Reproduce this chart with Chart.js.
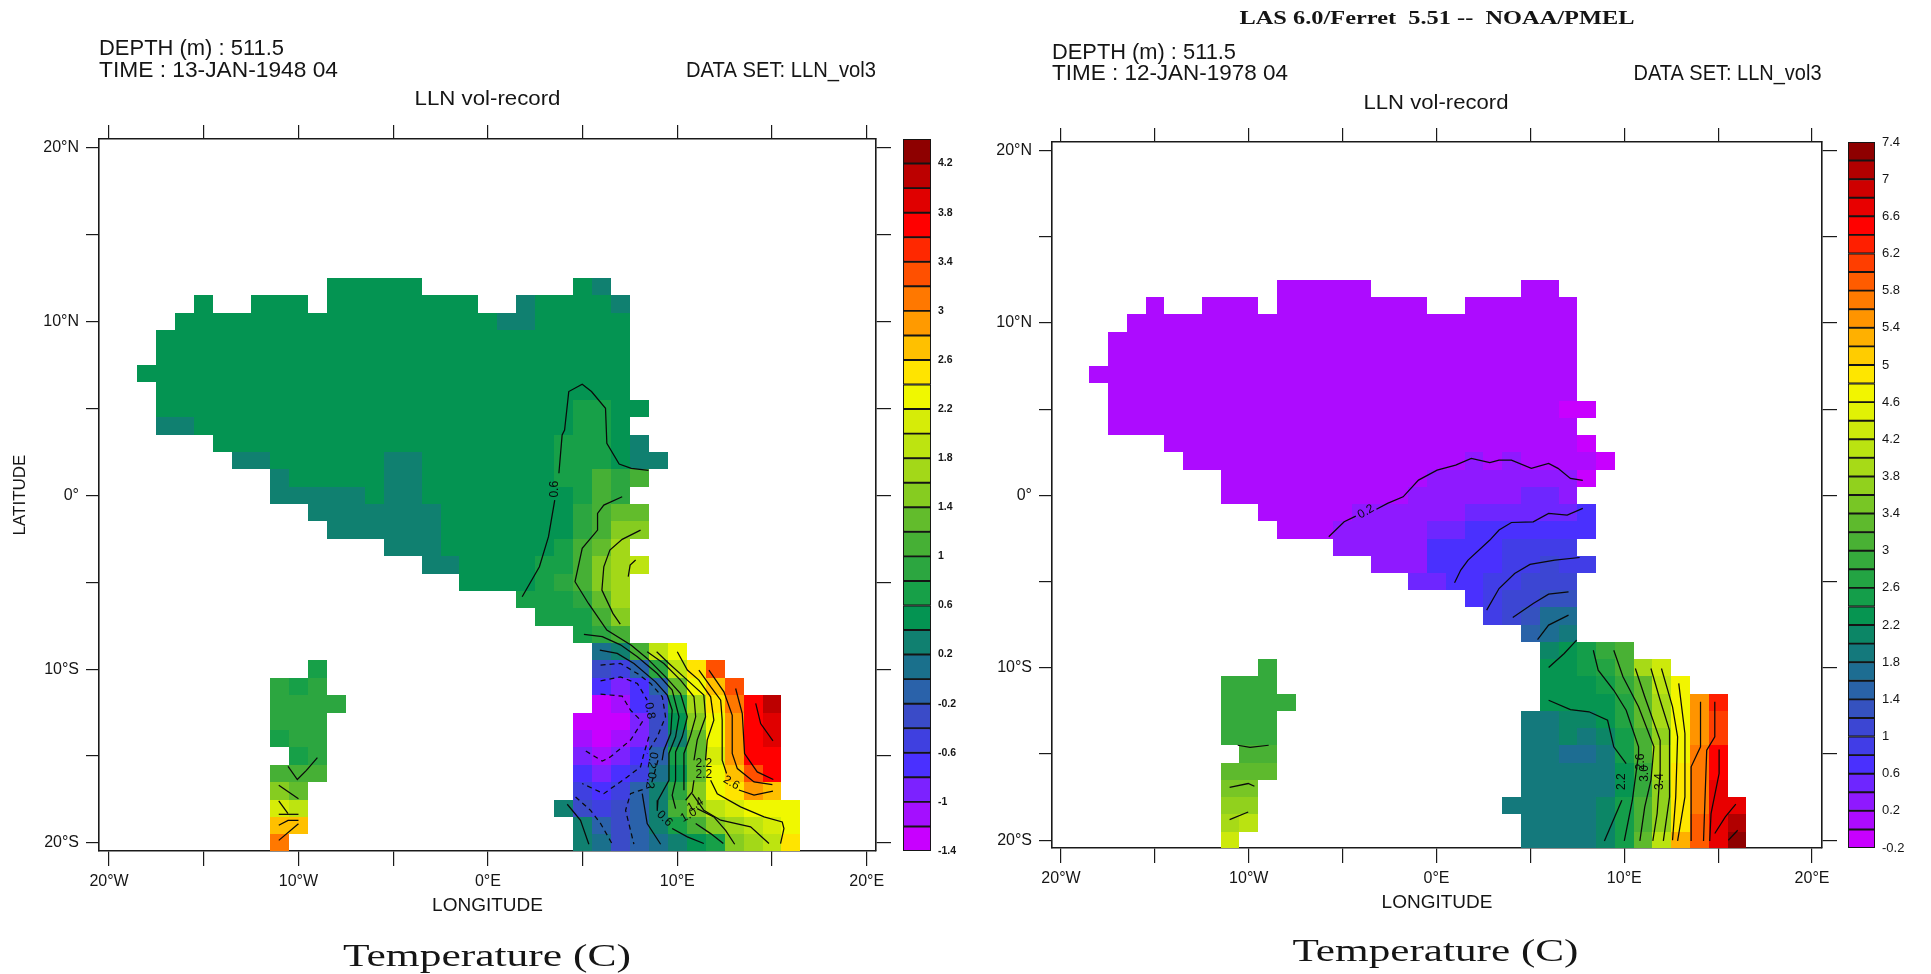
<!DOCTYPE html>
<html><head><meta charset="utf-8">
<style>html,body{margin:0;padding:0;background:#fff;width:1931px;height:974px;overflow:hidden}
canvas{position:absolute;top:0;filter:blur(.45px)}</style>
<script src="https://cdn.jsdelivr.net/npm/chart.js@4"></script>
</head><body>
<canvas id="mapL" width="960" height="974" style="left:0;width:960px;height:974px"></canvas>
<canvas id="mapR" width="966" height="974" style="left:965px;width:966px;height:974px"></canvas>
<canvas id="barL" width="65" height="974" style="left:903px;width:65px;height:974px"></canvas>
<canvas id="barR" width="83" height="974" style="left:1848px;width:83px;height:974px"></canvas>
<script>
const xTickValues=[-20,-15,-10,-5,0,5,10,15,20];
const xTickLabels=["20°W","","10°W","","0°E","","10°E","","20°E"];
const yTickValues=[20,15,10,5,0,-5,-10,-15,-20];
const yTickLabels=["20°N","","10°N","","0°","","10°S","","20°S"];
const leftLevelTicks=[-1.4,-1,-0.6,-0.2,0.2,0.6,1,1.4,1.8,2.2,2.6,3,3.4,3.8,4.2];
const rightLevelTicks=[-0.2,0.2,0.6,1,1.4,1.8,2.2,2.6,3,3.4,3.8,4.2,4.6,5,5.4,5.8,6.2,6.6,7,7.4];
const CODES="0123456789abcdefghijklmnopqrstuvwxyzAB";
const paletteStops=["#c800ff","#a40fff","#7c22ff","#4a30ff","#3f40e0","#3a4bc8","#2a62aa","#1a708c","#108070","#049452","#17a048","#2ca640","#46b035","#62bc2c","#86cc20","#a3d818","#bde410","#d6ec08","#f0f800","#ffe400","#ffc000","#ff9a00","#ff7800","#ff5000","#ff2800","#ff0000","#e00000","#bc0000","#8e0000"];

// [latitude, first longitude, one level code per 1-degree cell]
const leftCells=[
[12,-8,"99999"],[12,5,"98"],
[11,-15,"9"],[11,-12,"999"],[11,-8,"99999999"],[11,2,"899998"],
[10,-16,"99999 99999 99999 99 88 99999"],
[9,-17,"99999 99999 99999 99999 99999"],
[8,-17,"99999 99999 99999 99999 99999"],
[7,-18,"99999 99999 99999 99999 99999 9"],
[6,-17,"99999 99999 99999 99999 99999"],
[5,-17,"99999 99999 99999 99999 99 aa 99"],
[4,-17,"88 99999 99999 99999 99999 aa 9"],
[3,-14,"99999 99999 99999 999 aaa 9 8"],
[2,-13,"88 999999 88 9999999 aaa 9 88"],
[1,-11,"8 99999 88 9999999 aa c b c"],
[0,-11,"88888 9 88 9999999 9 a c b"],
[-1,-9,"8888888 9999999 b c dd"],
[-2,-8,"888888 9999999 b c ee"],
[-3,-5,"888 999999 a c d f"],
[-4,-3,"88 9999 aa c e f g"],
[-5,-1,"9999 a b c e f"],
[-6,2,"aaabdf"],
[-7,3,"aaace"],
[-8,5,"abc"],
[-9,6,"78cgi"],
[-10,6,"546bgjn"],[-10,-9,"a"],
[-11,6,"3236dikn"],[-11,-11,"bab"],
[-12,6,"0135afjmpr"],[-12,-11,"bbbb"],
[-13,5,"000259eilpq"],[-13,-11,"bbb"],
[-14,5,"101258dilpq"],[-14,-11,"abb"],
[-15,5,"21236adhlpp"],[-15,-10,"ab"],
[-16,5,"323479diknp"],[-16,-11,"ccc"],
[-17,5,"43468beijlk"],[-17,-11,"ed"],
[-18,4,"854568ceghiii"],[-18,-11,"hg"],
[-19,5,"86568acefghi"],[-19,-11,"kk"],
[-20,5,"8756789aefgj"],[-20,-11,"m"]
];
const rightCells=[
[12,-8,"11111"],[12,5,"11"],
[11,-15,"1"],[11,-12,"111"],[11,-8,"11111111"],[11,2,"111111"],
[10,-16,"11111 11111 11111 11111 1111"],
[9,-17,"11111 11111 11111 11111 11111"],
[8,-17,"11111 11111 11111 11111 11111"],
[7,-18,"11111 11111 11111 11111 11111 1"],
[6,-17,"11111 11111 11111 11111 11111"],
[5,-17,"11111 11111 11111 11111 1111 00"],
[4,-17,"11111 11111 11111 11111 11111"],
[3,-14,"11111 11111 11111 11111 11 0"],
[2,-13,"11111 11111 11111 2 1 2 111 1 0"],
[1,-11,"11111 11111 1 22222222 0"],
[0,-11,"11111 11111 222222 33 2"],
[-1,-9,"11111 222222 333333 4"],
[-2,-8,"111 22222 33 4444444"],
[-3,-5,"22222 4444 5555"],
[-4,-3,"222 4444 55655"],
[-5,-1,"334455666"],
[-6,2,"456677"],
[-7,3,"56799"],
[-8,5,"89a"],
[-9,6,"bcdfg"],
[-10,6,"ccdegkm"],[-10,-9,"f"],
[-11,6,"cccdfhlo"],[-11,-11,"fff"],
[-12,6,"ccccehkosw"],[-12,-11,"ffff"],
[-13,5,"aabbcehkosv"],[-13,-11,"fff"],
[-14,5,"aababdgjosv"],[-14,-11,"fff"],
[-15,5,"aa99adgkotx"],[-15,-10,"gg"],
[-16,5,"aaaaacfkptx"],[-16,-11,"hhh"],
[-17,5,"aaaaacfjpty"],[-17,-11,"ii"],
[-18,4,"aaaaabdgjptyy"],[-18,-11,"jj"],
[-19,5,"aaaabdgjpuyA"],[-19,-11,"kl"],
[-20,5,"aaaabdhlruyB"],[-20,-11,"m"]
];

const leftSolid=[
[[8.48,1.44],[7.57,1.55],[6.93,1.8],[6.28,2.99],[6.21,5.01],[5.47,5.97],[4.98,6.39],[4.27,5.97],[4.05,3.76],[3.92,3.47],[3.75,1.27]],
[[3.53,-0.27],[3.2,-2.38],[2.72,-4.11],[1.81,-5.83]],
[[7.09,-0.08],[6.12,-0.56],[5.79,-1.04],[5.79,-2],[4.98,-3.05],[4.6,-4.97],[5.31,-6.22],[6.28,-7.75],[7.57,-8.62],[8.41,-9.38],[9.38,-10.44],[10.17,-11.4],[10.53,-12.74],[10.26,-13.89],[9.91,-14.76],[9.91,-16.39],[9.73,-17.25],[9.91,-18.02]],
[[10.97,-18.88],[11.76,-19.46],[12.43,-20.03]],
[[8.06,-2],[7.09,-2.53],[6.44,-3.15],[6.12,-4.11],[6.02,-5.45],[6.6,-6.79],[6.99,-7.41]],
[[7.8,-3.72],[7.51,-4.01],[7.41,-4.68]],
[[5.07,-8],[6.04,-8.13],[7,-8.6],[7.89,-9.29],[8.94,-10.25],[9.73,-11.2],[10.09,-12.74],[9.91,-13.89],[9.56,-14.85],[9.56,-16.39],[8.98,-17.54],[8.94,-18.15]],
[[9.73,-19.17],[10.53,-19.65],[11.4,-20.03]],
[[5.91,-8.9],[6.83,-9.09],[7.71,-9.67],[8.85,-10.73],[9.47,-11.49],[9.73,-12.36],[9.65,-13.7],[9.29,-14.66],[9.2,-15.24]],
[[8.41,-9],[9.29,-9.67],[10.17,-10.63],[10.88,-11.59],[10.97,-12.74],[10.7,-13.8],[10.35,-14.85],[10.35,-16.96]],
[[8.91,-9],[9.56,-9.67],[10.53,-10.63],[11.4,-11.49],[11.49,-12.74],[11.05,-14.08],[10.88,-15.24]],
[[10.88,-16.39],[10.79,-17.06],[10.44,-17.54]],
[[10,-9],[10.53,-10.05],[11.14,-10.63],[11.76,-11.59],[11.93,-12.93],[11.58,-14.08],[11.49,-15.24]],
[[11.76,-16.39],[12.11,-17.17],[13.34,-17.92],[14.58,-18.5],[15.54,-18.79],[15.63,-19.17],[15.45,-20.03]],
[[11.14,-10.05],[11.76,-11.01],[12.29,-11.78],[12.37,-12.93],[12.37,-15.24],[12.6,-16]],
[[13.25,-16.95],[14.05,-17.25],[15.05,-17.02]],
[[11.67,-10.05],[12.46,-11.3],[12.9,-12.65],[12.9,-14.85],[13.17,-15.72],[14.05,-16.49],[15.02,-16.64]],
[[13.08,-11.11],[13.43,-12.55],[13.55,-14.85],[14.22,-15.91],[15.07,-16.35]],
[[14.14,-11.97],[14.4,-13.13],[15.05,-14.12]],
[[10.79,-17.16],[11.4,-18.12],[12.29,-18.69],[13.87,-19.07],[14.84,-20.03]],
[[11.05,-18.02],[11.93,-18.5],[12.55,-19.27],[13.03,-20.07]],
[[4.19,-17.77],[4.89,-18.69],[5.33,-20.07]],
[[8.15,-17.16],[8.41,-18.88],[9.12,-20.07]],
[[-9,-15.09],[-9.58,-15.82],[-10.06,-16.35],[-10.55,-15.59]],
[[-11.04,-16.68],[-10,-17.45]],
[[-11.04,-17.58],[-10.55,-18.31]],
[[-11.04,-18.35],[-10,-18.35]],
[[-11.04,-18.98],[-10.55,-18.7],[-10,-18.7]],
[[-11.04,-19.85],[-10,-18.89]]
];
const leftDashed=[
[[5.95,-9.77],[7,-9.67],[7.89,-10.25],[8.59,-10.82],[9.21,-11.59],[9.38,-12.74],[8.94,-13.89],[8.41,-14.85]],
[[5.95,-10.67],[7,-10.44],[7.89,-10.82],[8.41,-11.78]],
[[8.5,-13.89],[8.24,-14.85],[8.06,-15.62],[7.36,-16.2],[6.12,-17.16],[4.98,-16.58]],
[[5.95,-11.44],[7.09,-11.55],[7.53,-12.36],[8.15,-13.03],[7.53,-14.08],[6.48,-15.04],[6.04,-15.29],[5.16,-14.7]],
[[8.98,-15.24],[8.59,-16.77],[7.53,-17.16],[7.27,-18.12],[7.71,-20.07]],
[[4.63,-17.35],[5.42,-18.12],[5.95,-18.88],[6.57,-20.07]]
];
const rightSolid=[
[[7.79,0.87],[7.13,0.99],[6.47,1.57],[5.97,1.86],[5.05,1.57],[3.99,2.05],[3.33,2.05],[2.84,1.91],[1.85,2.15],[1.02,1.76],[0.03,1.47],[-0.96,0.89],[-1.78,-0.08],[-2.61,-0.46],[-3.2,-0.8]],
[[-4.3,-1.2],[-4.92,-1.53],[-5.74,-2.4]],
[[7.79,-0.75],[6.96,-1.14],[5.97,-1.04],[5.15,-1.53],[3.99,-1.57],[3.33,-2.01],[2.84,-2.59],[1.68,-3.75],[1.29,-4.33],[0.96,-5.07]],
[[7.62,-3.6],[6.3,-3.75],[4.98,-4],[4.16,-4.53],[3.33,-5.4],[2.67,-6.65]],
[[7.03,-5.59],[5.97,-5.73],[5.15,-6.27],[4.06,-7.08]],
[[7.03,-6.94],[5.97,-7.52],[5.38,-8.36]],
[[7.46,-8.39],[6.8,-9.17],[5.97,-9.98]],
[[5.97,-11.88],[7.13,-12.42],[8.12,-12.55],[9.11,-13.04],[9.44,-14.58],[10.1,-15.55]],
[[9.87,-17.68],[8.94,-20.04]],
[[8.35,-8.98],[8.61,-10.14],[9.44,-11.3],[10.1,-12.46],[10.76,-14.58],[10.76,-15],[10.43,-17.68],[10,-20.04]],
[[9.44,-8.98],[9.93,-10.52],[10.76,-12.26],[11.58,-14.58],[11.42,-16.52],[11.09,-18.07],[10.83,-20.04]],
[[10.59,-10.04],[11.09,-11.68],[11.91,-14.2],[11.91,-16],[11.75,-18.45],[11.52,-20.04]],
[[11.42,-10.04],[11.91,-11.88],[12.41,-13.62],[12.41,-17.49],[12.08,-20.04]],
[[11.98,-10.04],[12.57,-12.26],[12.84,-14],[12.74,-17.49],[12.57,-20]],
[[12.9,-10.9],[13.23,-13.81],[13.23,-17.49],[12.84,-20.04]],
[[14.06,-11.97],[14.06,-14.58],[13.56,-15.74],[13.56,-20.04]],
[[14.82,-11.97],[14.82,-14],[14.39,-14.78],[14.22,-20.04]],
[[15.05,-14.74],[15.05,-16.13],[14.62,-18.45],[14.55,-20.04]],
[[15.94,-17.91],[15.38,-18.65],[14.82,-19.61]],
[[16.04,-19.42],[15.54,-20]],
[[-10.59,-14.49],[-9.93,-14.62],[-8.94,-14.49]],
[[-11.02,-16.94],[-10.03,-16.71],[-9.7,-16.87]],
[[-11.02,-18.8],[-10.03,-18.36]]
];
const leftContourLabels=[[3.53,0.35,"0.6",-90],[8.55,-12.4,"0.8",80],[8.68,-15.24,"0.2",100],[8.59,-16.39,"0.2",100],[9.33,-18.6,"0.6",45],[10.6,-18.4,"1.0",-30],[10.95,-17.8,"1.4",-30],[11.4,-15.45,"2.2",0],[11.4,-16.05,"2.2",0],[12.85,-16.54,"2.6",30]];
const rightContourLabels=[[-3.76,-0.95,"0.2",-30],[9.87,-16.6,"2.2",-90],[10.86,-15.45,"2.6",-90],[11.09,-16.13,"3.0",-90],[11.91,-16.6,"3.4",-90]];

function expand(rows,min,step){
  const out=[];
  rows.forEach(([lat,lon,codes])=>[...codes.replace(/ /g,'')].forEach((c,i)=>out.push({x:lon+i,y:lat,v:min+(CODES.indexOf(c)+.5)*step})));
  return out;
}
function hex(c){return [1,3,5].map(i=>parseInt(c.substr(i,2),16));}
function palette(n){
  const r=[];
  for(let j=0;j<n;j++){
    const t=j*(paletteStops.length-1)/(n-1),k=Math.min(Math.floor(t),paletteStops.length-2),f=t-k;
    const a=hex(paletteStops[k]),b=hex(paletteStops[k+1]);
    r.push(`rgb(${a.map((v,i)=>Math.round(v+(b[i]-v)*f)).join(',')})`);
  }
  return r;
}
function fitText(ctx,text,x,y,w,font,align){
  ctx.save();ctx.font=font;ctx.fillStyle='#151515';ctx.textBaseline='middle';ctx.textAlign='left';
  const m=ctx.measureText(text).width,s=w/m,x0=align==='center'?x-w/2:x;
  ctx.translate(x0,y);ctx.scale(s,1);ctx.fillText(text,0,0);ctx.restore();
}
function lineSets(list,dash){
  return list.map(pts=>({type:'scatter',showLine:true,data:pts.map(p=>({x:p[0],y:p[1]})),borderColor:'#0a0a0a',borderWidth:1.25,pointRadius:0,borderDash:dash,tension:0,fill:false}));
}
function mapChart(id,c){
  const pal=palette(c.n);
  const cellPlugin={id:'cells',beforeDatasetsDraw(ch){
    const {ctx,chartArea:a,scales:{x,y}}=ch;
    ctx.save();ctx.beginPath();ctx.rect(a.left,a.top,a.right-a.left,a.bottom-a.top);ctx.clip();
    ch.data.datasets[0].data.forEach(d=>{
      const x0=Math.round(x.getPixelForValue(d.x-.5)),x1=Math.round(x.getPixelForValue(d.x+.5));
      const y0=Math.round(y.getPixelForValue(d.y+.5)),y1=Math.round(y.getPixelForValue(d.y-.5));
      ctx.fillStyle=pal[Math.floor((d.v-c.min)/c.step)];ctx.fillRect(x0,y0,x1-x0,y1-y0);
    });
    ctx.restore();
  }};
  const textPlugin={id:'texts',afterDatasetsDraw(ch){
    const {ctx,scales:{x,y}}=ch;
    c.labels.forEach(([lo,la,t,r])=>{
      ctx.save();ctx.translate(x.getPixelForValue(lo),y.getPixelForValue(la));ctx.rotate(r*Math.PI/180);
      ctx.font='12px "Liberation Sans"';ctx.fillStyle='#0a0a0a';ctx.textAlign='center';ctx.textBaseline='middle';ctx.fillText(t,0,0);ctx.restore();
    });
    c.texts.forEach(t=>fitText(ctx,...t));
  }};
  const gridCfg=len=>({display:true,drawOnChartArea:false,drawTicks:true,tickLength:len,color:'#1a1a1a',lineWidth:1.2});
  const borderCfg={display:true,color:'#1a1a1a',width:1.6};
  const setX=s=>{s.ticks=xTickValues.map(v=>({value:v}));};
  const setY=s=>{s.ticks=yTickValues.map(v=>({value:v}));};
  const tickFont={family:'"Liberation Sans"',size:16};
  const yScale={type:'linear',position:'left',min:c.latMin,max:c.latMax,afterBuildTicks:setY,afterFit:s=>{s.width=c.left;},
    grid:gridCfg(13),border:borderCfg,
    ticks:{autoSkip:false,maxRotation:0,padding:7,color:'#151515',font:tickFont,callback:(v,i)=>yTickLabels[i]}};
  if(c.latTitle) yScale.title={display:true,text:'LATITUDE',color:'#151515',font:{family:'"Liberation Sans"',size:17},padding:{top:10,bottom:10}};
  return new Chart(document.getElementById(id),{
    data:{datasets:[{type:'scatter',label:'Temperature (C)',data:expand(c.cells,c.min,c.step),pointRadius:0,showLine:false},...lineSets(c.solid,[]),...lineSets(c.dashed,[5,4])]},
    plugins:[cellPlugin,textPlugin],
    options:{responsive:false,animation:false,devicePixelRatio:1,layout:{padding:0},
      plugins:{legend:{display:false},tooltip:{enabled:false},title:{display:false}},
      scales:{
        x:{type:'linear',position:'bottom',min:c.lonMin,max:c.lonMax,afterBuildTicks:setX,afterFit:s=>{s.height=c.bottom;},
          grid:gridCfg(15),border:borderCfg,
          title:{display:true,text:'LONGITUDE',color:'#151515',font:{family:'"Liberation Sans"',size:19},padding:{top:0,bottom:c.lonPad}},
          ticks:{autoSkip:false,maxRotation:0,padding:6,color:'#151515',font:tickFont,callback:(v,i)=>xTickLabels[i]}},
        x2:{type:'linear',position:'top',min:c.lonMin,max:c.lonMax,afterBuildTicks:setX,afterFit:s=>{s.height=c.top;},
          grid:gridCfg(14),border:borderCfg,ticks:{display:false}},
        y:yScale,
        y2:{type:'linear',position:'right',min:c.latMin,max:c.latMax,afterBuildTicks:setY,afterFit:s=>{s.width=c.right;},
          grid:gridCfg(15),border:borderCfg,ticks:{display:false}}
      }}
  });
}
function levelBar(id,c){
  const pal=palette(c.n);
  const sets=pal.map((col,k)=>({data:[[c.min+k*c.step,c.min+(k+1)*c.step]],backgroundColor:col,borderColor:'#151515',borderWidth:1.3,borderSkipped:false,barPercentage:1,categoryPercentage:1,grouped:false}));
  return new Chart(document.getElementById(id),{type:'bar',
    data:{labels:[''],datasets:sets},
    options:{responsive:false,animation:false,devicePixelRatio:1,layout:{padding:{top:c.top,bottom:c.bottom}},
      plugins:{legend:{display:false},tooltip:{enabled:false}},
      scales:{
        x:{display:false,grid:{display:false}},
        y:{type:'linear',position:'right',min:c.min,max:c.min+c.n*c.step,
          afterBuildTicks:s=>{s.ticks=c.ticks.map(v=>({value:v}));},afterFit:s=>{s.width=c.axisWidth;},
          grid:{display:false,drawTicks:false},border:{display:false},
          ticks:{autoSkip:false,padding:7,color:'#151515',font:{family:'"Liberation Sans"',size:c.font,weight:c.weight},callback:v=>String(v)}}
      }}
  });
}
const sideFont='22px "Liberation Sans"';
const titleFont='32px "Liberation Serif"';
mapChart('mapL',{n:29,min:-1.4,step:.2,cells:leftCells,solid:leftSolid,dashed:leftDashed,labels:leftContourLabels,
  lonMin:-20.53,lonMax:20.49,latMin:-20.46,latMax:20.5,left:99,right:84,top:139,bottom:123,lonPad:57,latTitle:true,
  texts:[["DEPTH (m) : 511.5",99,48.5,185,sideFont,"left"],["TIME : 13-JAN-1948 04",99,71,239,sideFont,"left"],["DATA SET: LLN_vol3",686,71,190,sideFont,"left"],
    ["LLN vol-record",487.5,99.5,146,'20px "Liberation Sans"',"center"],["Temperature (C)",487,958,288,titleFont,"center"]]});
mapChart('mapR',{n:38,min:-.2,step:.2,cells:rightCells,solid:rightSolid,dashed:[],labels:rightContourLabels,
  lonMin:-20.48,lonMax:20.53,latMin:-20.45,latMax:20.5,left:87,right:109,top:142,bottom:126,lonPad:60,latTitle:false,
  texts:[["LAS 6.0/Ferret  5.51 --  NOAA/PMEL",472,19,395,'bold 18px "Liberation Serif"',"center"],
    ["DEPTH (m) : 511.5",87,52.5,184,sideFont,"left"],["TIME : 12-JAN-1978 04",87,74,236,sideFont,"left"],["DATA SET: LLN_vol3",668.5,74,188,sideFont,"left"],
    ["LLN vol-record",471,103,145,'20px "Liberation Sans"',"center"],["Temperature (C)",470.5,953,286,titleFont,"center"]]});
levelBar('barL',{n:29,min:-1.4,step:.2,ticks:leftLevelTicks,top:139,bottom:123,axisWidth:37,font:10.5,weight:'bold'});
levelBar('barR',{n:38,min:-.2,step:.2,ticks:rightLevelTicks,top:142,bottom:126,axisWidth:56,font:13,weight:'normal'});
</script>
</body></html>
